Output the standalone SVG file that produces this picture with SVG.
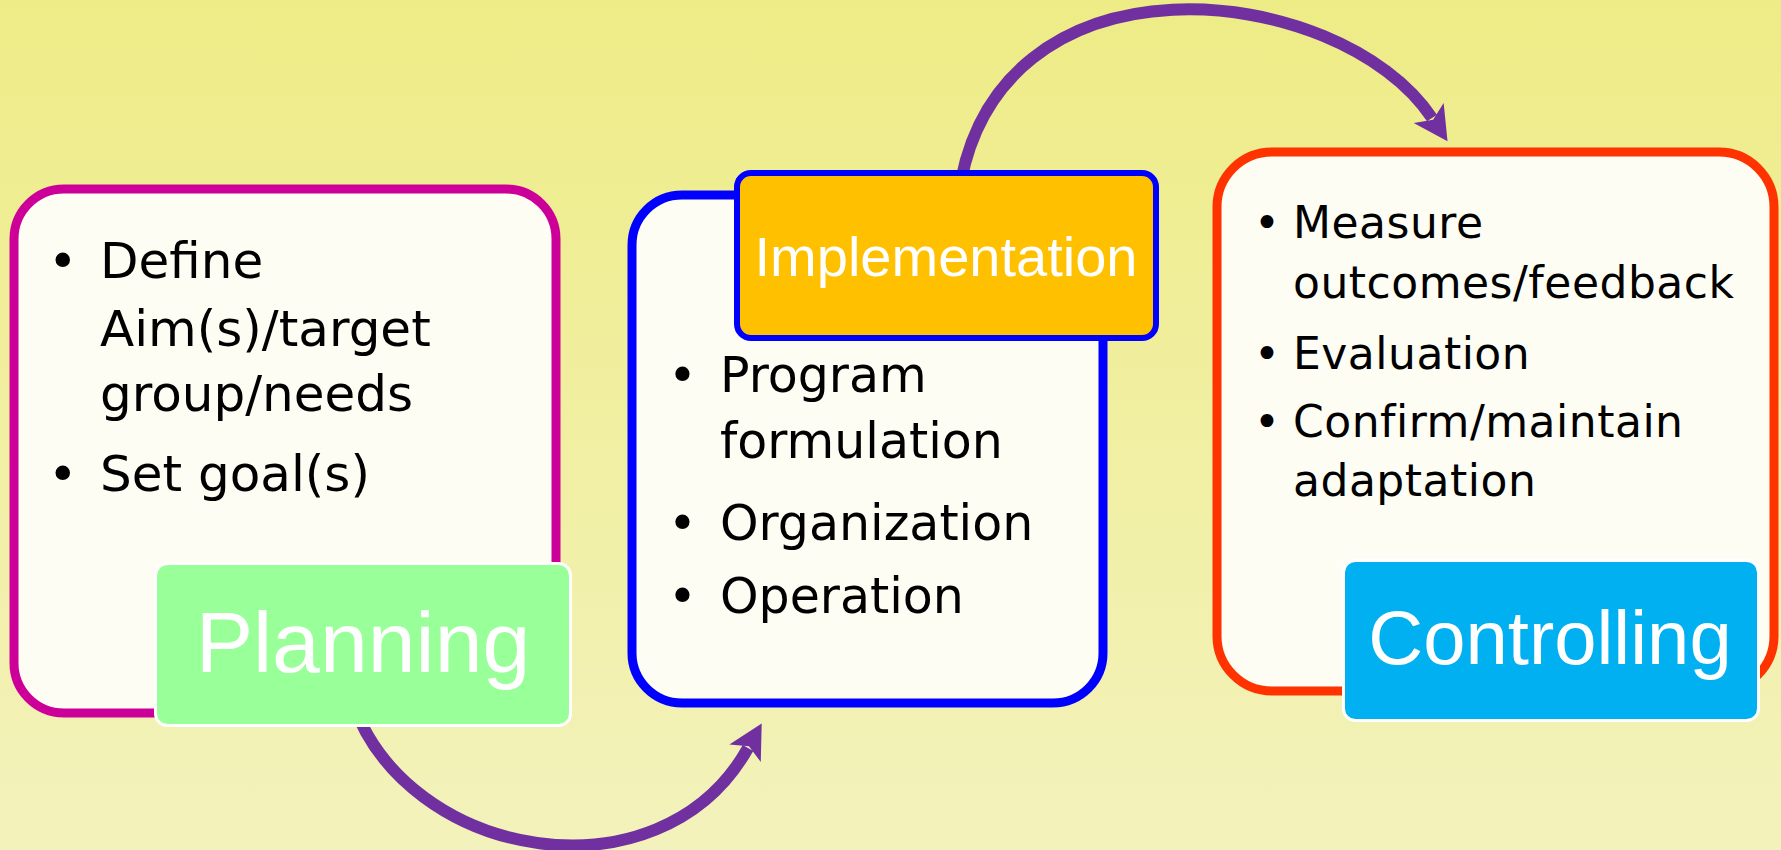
<svg xmlns="http://www.w3.org/2000/svg" width="1781" height="850" viewBox="0 0 1781 850">
  <defs>
    <linearGradient id="bg" x1="0" y1="0" x2="0" y2="1">
      <stop offset="0" stop-color="#EEEC86"/>
      <stop offset="1" stop-color="#F3F2BC"/>
    </linearGradient>
    <marker id="head" markerUnits="userSpaceOnUse" markerWidth="44" markerHeight="44" refX="6" refY="20" orient="auto">
      <path d="M0,2 L34,20 L0,38 L8,20 Z" fill="#7030A0"/>
    </marker>
    <style>
      .card { fill: #FDFDF4; stroke-width: 9; }
      .bullet { font-family: "DejaVu Sans", "Liberation Sans", sans-serif; fill: #000; }
      .title { font-family: "Liberation Sans", Arial, sans-serif; fill: #FFFFFF; text-anchor: middle; }
      .arrow { fill: none; stroke: #7030A0; stroke-width: 12; marker-end: url(#head); }
    </style>
  </defs>

  <rect x="0" y="0" width="1781" height="850" fill="url(#bg)"/>

  <!-- curved flow arrows, drawn beneath the cards -->
  <g id="connectors">
    <path class="arrow" d="M 352 700 C 405 860, 660 905, 748 748"/>
    <path class="arrow" d="M 958 200 C 990 -60, 1340 -20, 1432 118"/>
  </g>

  <!-- Planning -->
  <g id="planning">
    <rect class="card" x="14" y="189" width="542" height="524" rx="50" stroke="#CC0099"/>
    <g class="bullet" font-size="50">
      <text x="48" y="278">•</text>
      <text x="100" y="278">Define</text>
      <text x="100" y="346">Aim(s)/target</text>
      <text x="100" y="411">group/needs</text>
      <text x="48" y="491">•</text>
      <text x="100" y="491">Set goal(s)</text>
    </g>
    <rect x="155.5" y="563.5" width="415" height="162" rx="12" fill="#99FF99" stroke="#FFFFFF" stroke-width="3"/>
    <text class="title" x="363" y="672" font-size="86">Planning</text>
  </g>

  <!-- Implementation -->
  <g id="implementation">
    <rect class="card" x="632" y="195" width="471" height="508" rx="50" stroke="#0000FF"/>
    <g class="bullet" font-size="49">
      <text x="668" y="392">•</text>
      <text x="720" y="392">Program</text>
      <text x="720" y="458">formulation</text>
      <text x="668" y="540">•</text>
      <text x="720" y="540">Organization</text>
      <text x="668" y="613">•</text>
      <text x="720" y="613">Operation</text>
    </g>
    <rect x="737" y="173" width="419" height="165" rx="14" fill="#FFC000" stroke="#0000FF" stroke-width="6"/>
    <text class="title" x="946" y="276" font-size="56">Implementation</text>
  </g>

  <!-- Controlling -->
  <g id="controlling">
    <rect class="card" x="1217" y="152" width="557" height="539" rx="55" stroke="#FF3300"/>
    <g class="bullet" font-size="44" letter-spacing="0.5">
      <text x="1254" y="238">•</text>
      <text x="1293" y="238">Measure</text>
      <text x="1293" y="298">outcomes/feedback</text>
      <text x="1254" y="369">•</text>
      <text x="1293" y="369">Evaluation</text>
      <text x="1254" y="437">•</text>
      <text x="1293" y="437">Confirm/maintain</text>
      <text x="1293" y="496">adaptation</text>
    </g>
    <rect x="1343.5" y="560.5" width="415" height="160" rx="12" fill="#00B0F0" stroke="#FFFFFF" stroke-width="3"/>
    <text class="title" x="1550" y="664" font-size="76">Controlling</text>
  </g>
</svg>
